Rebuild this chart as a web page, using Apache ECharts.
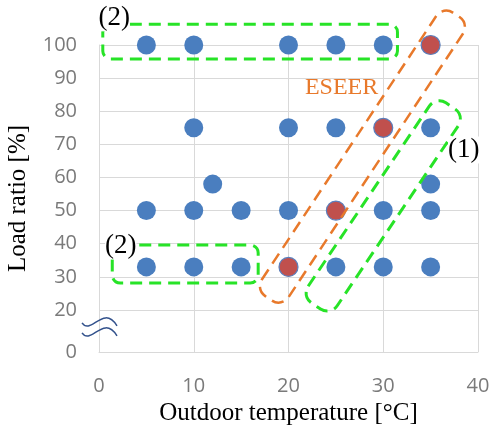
<!DOCTYPE html>
<html>
<head>
<meta charset="utf-8">
<script src="https://cdn.jsdelivr.net/npm/echarts@6/dist/echarts.min.js"></script>
<style>
  html, body { margin: 0; padding: 0; background: #fff; }
  #chart { width: 492px; height: 427px; }
</style>
</head>
<body>
<div id="chart"></div>
<script>
// points: [outdoor temperature, load ratio]
var bluePoints = [
  [5, 100], [10, 100], [20, 100], [25, 100], [30, 100],
  [10, 75], [20, 75], [25, 75], [35, 75],
  [12, 58], [35, 58],
  [5, 50], [10, 50], [15, 50], [20, 50], [30, 50], [35, 50],
  [5, 33], [10, 33], [15, 33], [25, 33], [30, 33], [35, 33]
];
var redPoints = [[35, 100], [30, 75], [25, 50], [20, 33]];

var xTicks = [0, 10, 20, 30, 40];
var yTicks = [20, 30, 40, 50, 60, 70, 80, 90, 100];
var yBottom = 7.3;          // axis is broken below 20, bottom shown as "0"
var yBottomLabel = '0';

// annotation outlines, in data units
var boxTop = [[0.4, 106.3], [31.5, 95.8]];
var boxBottom = [[1.4, 39.6], [16.8, 28.1]];
var bandGreen = [[22.9, 21.2], [37.1, 81.6]];
var bandOrange = [[17.9, 23.5], [37.7, 109.1]];
var breakAt = [0, 14.9];
var notes = [
  { text: '(2)', at: [1.6, 108.2] },
  { text: '(2)', at: [2.3, 39.4] },
  { text: '(1)', at: [38.5, 68.3] }
];
var eseerAt = [25.6, 87.0];

var chart = echarts.init(document.getElementById('chart'));

var gridColor = '#d9d9d9';
var tickFont = { color: '#7a7a7a', fontSize: 20, fontFamily: 'Open Sans' };
var titleFont = { color: '#000', fontSize: 25, fontFamily: 'Liberation Serif' };

var option = {
  animation: false,
  grid: { left: 99, right: 14, top: 45, bottom: 75, containLabel: false, outerBoundsMode: 'none' },
  xAxis: {
    type: 'value',
    min: xTicks[0],
    max: xTicks[xTicks.length - 1],
    interval: 10,
    name: 'Outdoor temperature [°C]',
    nameLocation: 'middle',
    nameGap: 46,
    nameTextStyle: titleFont,
    axisLine: { show: true, lineStyle: { color: gridColor } },
    axisTick: { show: false },
    axisLabel: Object.assign({ margin: 24 }, tickFont),
    splitLine: { show: true, lineStyle: { color: gridColor } }
  },
  yAxis: {
    type: 'value',
    min: yBottom,
    max: yTicks[yTicks.length - 1],
    name: 'Load ratio [%]',
    nameLocation: 'middle',
    nameGap: 68,
    nameTextStyle: titleFont,
    axisLine: { show: true, lineStyle: { color: gridColor } },
    axisTick: { show: false, customValues: yTicks },
    axisLabel: Object.assign({
      margin: 22,
      customValues: [yBottom].concat(yTicks),
      formatter: function (v) { return v < yTicks[0] ? yBottomLabel : String(v); }
    }, tickFont),
    splitLine: { show: true, lineStyle: { color: gridColor } }
  },
  series: [
    {
      type: 'scatter',
      data: bluePoints,
      symbolSize: 19,
      itemStyle: { color: '#4a7ebf', opacity: 1 }
    },
    {
      type: 'scatter',
      data: redPoints,
      symbolSize: 19,
      itemStyle: { color: '#c0504d', borderColor: '#5a7fbd', borderWidth: 1.2, opacity: 1 }
    }
  ]
};
chart.setOption(option);

function px(p) { return chart.convertToPixel({ gridIndex: 0 }, p); }

var green = '#27e327';
var orange = '#e8792b';

function box(b, color) {
  var a = px(b[0]), c = px(b[1]);
  return {
    type: 'rect', silent: true, z: 100,
    shape: { x: Math.min(a[0], c[0]), y: Math.min(a[1], c[1]), width: Math.abs(c[0] - a[0]), height: Math.abs(c[1] - a[1]), r: 8 },
    style: { fill: 'none', stroke: color, lineWidth: 3, lineDash: [12, 7] }
  };
}

function band(b, color, w, lw) {
  var p1 = px(b[0]), p2 = px(b[1]);
  var len = Math.hypot(p2[0] - p1[0], p2[1] - p1[1]);
  var ang = Math.atan2(p1[1] - p2[1], p2[0] - p1[0]);
  return {
    type: 'rect', silent: true, z: 100,
    x: (p1[0] + p2[0]) / 2, y: (p1[1] + p2[1]) / 2, rotation: ang,
    shape: { x: -len / 2, y: -w / 2, width: len, height: w, r: 12 },
    style: { fill: 'none', stroke: color, lineWidth: lw, lineDash: [12, 7] }
  };
}

function wave(c, dy) {
  return {
    type: 'bezierCurve', silent: true, z: 101,
    shape: { x1: c[0] - 17, y1: c[1] + dy + 1, cpx1: c[0] - 8, cpy1: c[1] + dy + 14, cpx2: c[0] + 4, cpy2: c[1] + dy - 18, x2: c[0] + 18, y2: c[1] + dy + 4 },
    style: { fill: 'none', stroke: '#33528c', lineWidth: 1.5 }
  };
}

var graphics = [
  band(bandOrange, orange, 32, 2.5),
  band(bandGreen, green, 35, 3),
  box(boxTop, green),
  box(boxBottom, green)
];
var bc = px(breakAt);
graphics.push(wave(bc, -5), wave(bc, 5));
notes.forEach(function (n) {
  var p = px(n.at);
  graphics.push({
    type: 'text', silent: true, z: 102, x: p[0], y: p[1],
    style: { text: n.text, fill: '#000', font: '27px "Liberation Serif"', align: 'center', verticalAlign: 'middle', backgroundColor: '#fff' }
  });
});
var ep = px(eseerAt);
graphics.push({
  type: 'text', silent: true, z: 102, x: ep[0], y: ep[1],
  style: { text: 'ESEER', fill: orange, font: '24px "Liberation Serif"', align: 'center', verticalAlign: 'middle' }
});

chart.setOption({ graphic: graphics });
</script>
</body>
</html>
